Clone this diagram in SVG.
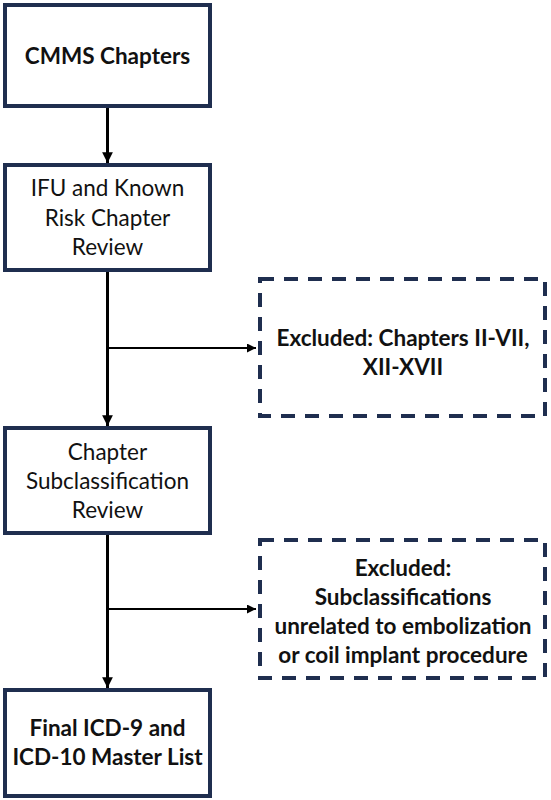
<svg xmlns="http://www.w3.org/2000/svg" width="551" height="800" viewBox="0 0 551 800">
<defs>
<marker id="ah" viewBox="0 0 10 10" refX="10" refY="5" markerWidth="3.6" markerHeight="3.6" markerUnits="strokeWidth" orient="auto">
<path d="M0,0 L10,5 L0,10 z" fill="#000"/>
</marker>
<marker id="ahs" viewBox="0 0 10 10" refX="10" refY="5" markerWidth="4.5" markerHeight="4.5" markerUnits="strokeWidth" orient="auto">
<path d="M0,0 L10,5 L0,10 z" fill="#000"/>
</marker>
</defs>
<style>
.box{fill:#fff;stroke:#1f2e4f;stroke-width:4}
.dash{fill:#fff;stroke:#1f2e4f;stroke-width:4;stroke-dasharray:14 10}
.t{font-family:Lato,"Open Sans","Liberation Sans",sans-serif;font-size:22.5px;fill:#111;text-anchor:middle}
.b{font-weight:bold}
.main{stroke:#000;stroke-width:3;fill:none}
.br{stroke:#000;stroke-width:2;fill:none}
</style>
<rect width="551" height="800" fill="#fff"/>
<g id="connectors">
<line class="main" x1="107.5" y1="108" x2="107.5" y2="163" marker-end="url(#ah)"/>
<line class="main" x1="107.5" y1="272" x2="107.5" y2="426" marker-end="url(#ah)"/>
<line class="br" x1="107.5" y1="348" x2="256" y2="348" marker-end="url(#ahs)"/>
<line class="main" x1="107.5" y1="535" x2="107.5" y2="688" marker-end="url(#ah)"/>
<line class="br" x1="107.5" y1="609" x2="256" y2="609" marker-end="url(#ahs)"/>
</g>
<g id="cmms">
<rect class="box" x="5" y="5" width="205" height="101"/>
<text class="t b" x="107.5" y="64">CMMS Chapters</text>
</g>
<g id="ifu">
<rect class="box" x="5" y="165" width="205" height="105"/>
<text class="t" x="107.5" y="196">IFU and Known</text>
<text class="t" x="107.5" y="225.5">Risk Chapter</text>
<text class="t" x="107.5" y="255">Review</text>
</g>
<g id="excluded1">
<rect class="dash" x="260" y="279" width="285" height="137"/>
<text class="t b" x="403" y="346">Excluded: Chapters II-VII,</text>
<text class="t b" x="403" y="375">XII-XVII</text>
</g>
<g id="subclass">
<rect class="box" x="5" y="428" width="205" height="105"/>
<text class="t" x="107.5" y="460">Chapter</text>
<text class="t" x="107.5" y="489">Subclassification</text>
<text class="t" x="107.5" y="518">Review</text>
</g>
<g id="excluded2">
<rect class="dash" x="260" y="540" width="285" height="138"/>
<text class="t b" x="403" y="576">Excluded:</text>
<text class="t b" x="403" y="605">Subclassifications</text>
<text class="t b" x="403" y="634">unrelated to embolization</text>
<text class="t b" x="403" y="663">or coil implant procedure</text>
</g>
<g id="final">
<rect class="box" x="5" y="690" width="205" height="106"/>
<text class="t b" x="107.5" y="736">Final ICD-9 and</text>
<text class="t b" x="107.5" y="765">ICD-10 Master List</text>
</g>
</svg>
